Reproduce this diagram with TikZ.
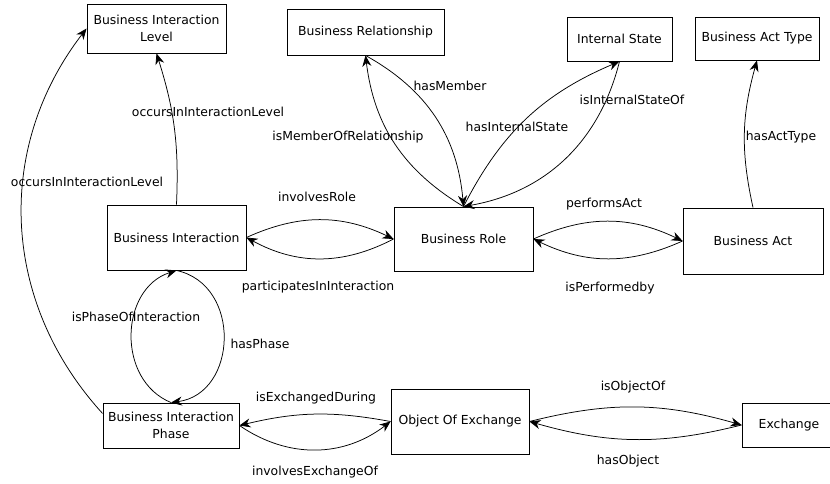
\documentclass[tikz,border=0pt]{standalone}
\usepackage{fontspec}
\setmainfont{DejaVu Sans}
\usetikzlibrary{arrows.meta}

\begin{document}
\begin{tikzpicture}[
  x=1pt, y=-1pt,
  font=\fontsize{12.4}{17}\selectfont,
  box/.style={draw, line width=0.9pt, inner sep=0pt, align=center},
  e/.style={line width=0.75pt, -{Stealth[length=11pt, width=9pt]}},
  lbl/.style={inner sep=1pt}
]
\useasboundingbox (0,0) rectangle (830,484);

% concepts
\node[box, minimum width=139, minimum height=49] (bil) at (156.5,28.5) {Business Interaction\\Level};
\node[box, minimum width=157, minimum height=46] (brel) at (365.5,32) {Business Relationship};
\node[box, minimum width=105, minimum height=44] (ist) at (619.5,39) {Internal State};
\node[box, minimum width=124, minimum height=43] (bat) at (757,38.5) {Business Act Type};
\node[box, minimum width=139, minimum height=65] (bi) at (176.5,237.5) {Business Interaction};
\node[box, minimum width=139, minimum height=64] (brole) at (463.5,239) {Business Role};
\node[box, minimum width=140, minimum height=66] (bact) at (753,241) {Business Act};
\node[box, minimum width=136, minimum height=45] (bip) at (171,425.5) {Business Interaction\\Phase};
\node[box, minimum width=138, minimum height=65] (ooe) at (460,421.5) {Object Of Exchange};
\node[box, minimum width=94, minimum height=44] (exch) at (789,425) {Exchange};

% relations
\draw[e, bend left=40] (bip.170) to (bil.west);
\draw[e, bend right=10] (bi.north) to (bil.south);
\draw[e, bend left=28] (brel.south) to (brole.north);
\draw[e, bend left=26] (brole.north) to (brel.south);
\draw[e, bend left=20] (brole.north) to (ist.south);
\draw[e, bend left=33] (ist.south) to (brole.north);
\draw[e, bend left=14] (bact.north) to (bat.south);
\draw[e, bend left=25] (bi.east) to (brole.west);
\draw[e, bend left=28] (brole.west) to (bi.east);
\draw[e, bend left=25] (brole.east) to (bact.west);
\draw[e, bend left=25] (bact.west) to (brole.east);
\draw[e, bend left=70, looseness=1.15] (bip.north) to (bi.south);
\draw[e, bend left=80, looseness=1.3] (bi.south) to (bip.north);
\draw[e, bend right=12] (ooe.west) to (bip.east);
\draw[e, bend right=36] (bip.east) to (ooe.west);
\draw[e, bend left=15] (ooe.east) to (exch.west);
\draw[e, bend left=15] (exch.west) to (ooe.east);

% relation names
\node[lbl] (l-occ1) at (87,182) {occursInInteractionLevel};
\node[lbl] (l-occ2) at (208,112) {occursInInteractionLevel};
\node[lbl] (l-ismem) at (348,137) {isMemberOfRelationship};
\node[lbl] (l-hasmem) at (450,86) {hasMember};
\node[lbl] (l-hasis) at (517,127) {hasInternalState};
\node[lbl] (l-isis) at (632,100) {isInternalStateOf};
\node[lbl] (l-acttype) at (781,137) {hasActType};
\node[lbl] (l-invrole) at (317,197) {involvesRole};
\node[lbl] (l-partin) at (318,287) {participatesInInteraction};
\node[lbl] (l-perf) at (604,204) {performsAct};
\node[lbl] (l-perfby) at (610,288) {isPerformedby};
\node[lbl] (l-isphase) at (136,317) {isPhaseOfInteraction};
\node[lbl] (l-hasphase) at (260,344) {hasPhase};
\node[lbl] (l-exdur) at (316,398) {isExchangedDuring};
\node[lbl] (l-invex) at (315,472) {involvesExchangeOf};
\node[lbl] (l-isobj) at (633,387) {isObjectOf};
\node[lbl] (l-hasobj) at (628,461) {hasObject};

\end{tikzpicture}
\end{document}
